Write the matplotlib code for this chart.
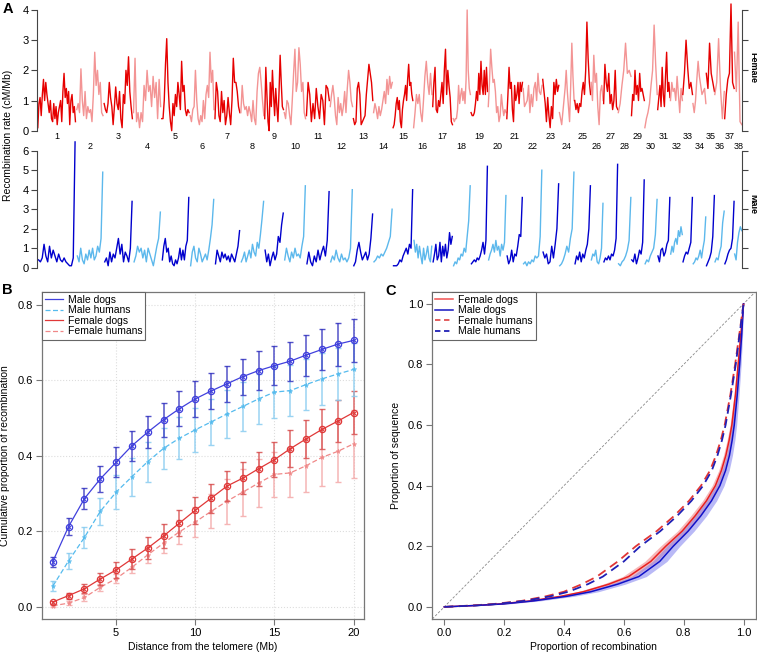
import numpy as np
import matplotlib
matplotlib.use('Agg')
import matplotlib.pyplot as plt

plt.rcParams['font.family'] = ['Liberation Sans', 'DejaVu Sans']

# ---------------- Panel A data ----------------
chrom_names = [str(i) for i in range(1, 39)]
chrom_len = [122.7, 85.4, 91.9, 88.3, 88.9, 77.6, 81.0, 74.9, 61.0, 69.3,
             74.4, 72.5, 63.2, 60.9, 64.3, 59.6, 64.3, 55.8, 53.7, 58.1,
             50.9, 61.4, 52.3, 47.7, 51.6, 38.9, 46.0, 41.2, 41.8, 40.2,
             39.9, 38.8, 31.4, 42.1, 26.5, 30.8, 30.9, 23.9]

female_rate = [
    [0.1, 0.9, 1.1, 0.5, 1.2, 1.7, 1.0, 1.6, 1.2, 0.9, 0.6, 1.0, 0.4, 0.3, 0.9, 0.4, 0.8,
     0.2, 0.6, 0.8, 1.0, 0.3, 1.3, 1.9, 1.1, 1.4, 0.9, 1.3, 0.2, 1.0, 1.2, 0.6, 0.8, 0.3],
    [0.7, 0.9, 0.6, 2.05, 1.0, 0.5, 1.3, 0.4, 0.8, 0.6, 0.7, 0.3, 1.2, 2.6, 1.5, 2.0, 1.2, 1.6, 0.6, 0.5],
    [0.9, 0.7, 0.6, 0.9, 1.6, 1.1, 0.8, 0.2, 0.8, 1.45, 0.9, 0.7, 1.3, 0.4, 0.1, 1.2, 0.9, 2.0,
     1.5, 2.45, 1.3, 0.8, 0.4],
    [0.6, 2.4, 0.3, 0.6, 0.1, 0.6, 0.3, 1.5, 1.0, 2.0, 1.3, 1.5, 0.8, 1.8, 1.1, 1.6, 0.4, 1.7, 0.8],
    [0.4, 0.4, 1.0, 2.2, 3.05, 1.6, 0.8, 0.3, 0.0, 0.9, 0.5, 1.2, 0.8, 1.6, 1.2, 0.7, 2.3, 1.3,
     1.5, 0.7, 0.5, 0.7, 0.6],
    [0.5, 0.3, 0.7, 0.8, 2.0, 1.0, 0.4, 0.2, 0.5, 0.3, 1.0, 0.4, 1.2, 1.5, 1.1, 2.6, 1.6, 2.0, 0.7],
    [0.4, 1.6, 1.3, 0.5, 0.3, 1.3, 0.6, 1.0, 0.2, 0.5, 1.1, 0.6, 0.2, 1.0, 2.4, 1.6, 1.6, 1.3, 0.8, 0.6],
    [0.6, 1.5, 0.9, 0.7, 0.8, 0.5, 0.8, 0.6, 0.3, 1.0, 0.4, 0.2, 1.3, 1.9, 2.1, 1.6, 1.0, 0.5],
    [0.4, 2.1, 1.2, 0.3, 0.0, 1.6, 0.8, 2.0, 1.2, 0.5, 1.4, 0.8, 0.3, 1.3, 2.5, 1.6, 0.8, 0.7],
    [0.6, 0.4, 1.0, 0.9, 0.5, 0.2, 1.0, 1.9, 2.7, 1.3, 1.6, 2.75, 2.2, 1.3, 1.6, 0.6, 0.4],
    [0.5, 1.6, 1.2, 0.3, 0.9, 0.4, 1.4, 0.8, 0.4, 1.2, 1.0, 0.2, 1.5, 1.4, 1.0],
    [0.8, 1.2, 1.5, 1.1, 0.5, 0.2, 1.1, 0.6, 0.9, 0.5, 0.8, 1.3, 0.6, 1.4, 2.0, 1.6, 1.0, 0.8],
    [0.4, 0.2, 0.3, 1.4, 1.6, 1.2, 0.2, 0.3, 0.4, 0.5, 1.2, 1.7, 2.2, 1.9, 1.6, 1.0],
    [0.6, 0.9, 0.7, 0.4, 0.8, 0.5, 0.7, 1.0, 1.3, 0.9, 1.7, 1.2, 1.8, 1.4, 1.6],
    [0.1, 0.2, 0.5, 0.9, 1.1, 0.7, 1.0, 0.3, 0.1, 0.7, 1.0, 1.2, 1.5, 1.0, 1.7, 2.2, 1.5, 1.6, 1.2, 1.0],
    [0.1, 0.6, 1.2, 0.9, 1.2, 0.6, 0.3, 1.0, 1.8, 2.3, 1.6, 1.2, 1.9, 1.2],
    [0.8, 1.6, 2.1, 0.7, 0.6, 1.0, 0.8, 1.2, 1.6, 0.9, 2.0, 2.7, 1.2, 2.0, 1.5, 1.1, 0.3, 0.2],
    [0.4, 0.3, 0.4, 0.4, 0.7, 1.5, 0.9, 1.2, 1.4, 1.0, 1.3, 0.9, 1.7, 4.0, 2.0, 1.4, 1.2],
    [0.6, 0.5, 0.5, 0.6, 0.9, 1.3, 1.0, 1.9, 1.2, 2.3, 1.5, 1.2, 2.0, 1.2, 2.1, 1.3],
    [0.8, 1.6, 2.7, 2.1, 1.6, 1.7, 1.3, 0.6, 0.8, 0.3, 0.5, 1.2, 0.8, 0.5, 0.7, 0.6],
    [0.4, 1.2, 2.1, 1.4, 1.6, 0.7, 0.3, 1.5, 1.0, 1.2, 1.6, 0.9, 1.6, 1.3, 1.6],
    [1.4, 0.8, 0.9, 1.0, 1.5, 0.6, 1.2, 0.8, 1.4, 1.6, 1.0, 1.9, 1.3, 1.2, 1.5],
    [1.7, 1.3, 0.9, 0.3, 1.1, 0.5, 0.1, 0.8, 0.4, 1.6, 1.2, 1.7, 1.3, 1.5],
    [0.6, 0.4, 0.2, 0.6, 1.0, 1.4, 2.0, 1.3, 0.8, 0.3, 1.5, 2.9, 1.8, 1.0],
    [1.0, 0.7, 0.9, 0.6, 0.9, 0.8, 1.3, 1.6, 1.2, 2.0, 3.6, 2.4, 1.6, 1.2],
    [1.6, 1.0, 2.5, 1.6, 1.9, 0.8, 0.2, 1.3, 1.5, 1.0],
    [0.9, 2.2, 1.6, 1.3, 1.9, 0.9, 1.2, 0.7, 1.0, 2.0, 0.8, 0.7],
    [0.6, 0.9, 1.5, 2.0, 2.9, 1.9, 2.0, 1.8],
    [0.5, 1.2, 1.0, 2.0, 1.2, 1.5, 1.0, 1.9, 1.3, 1.4, 1.2, 1.0],
    [0.1, 0.4, 0.6, 0.9, 1.5, 2.0, 3.5, 2.2, 1.2],
    [0.7, 1.1, 1.5, 0.8, 2.1, 1.2, 0.8, 1.8, 2.6, 1.3, 1.6, 1.1],
    [1.0, 1.6, 1.3, 1.4, 1.0, 1.8, 1.2, 0.6, 1.4, 1.0],
    [1.2, 1.9, 3.0, 2.1, 1.4, 1.6, 1.2],
    [0.9, 0.6, 1.0, 1.7, 2.3, 1.8, 1.5, 1.2, 1.3, 1.4, 0.9],
    [1.9, 1.4, 2.9, 1.9, 1.6, 1.3],
    [1.2, 1.6, 3.05, 1.4, 0.4, 1.3],
    [0.4, 1.2, 1.7, 1.9, 4.2, 1.6, 1.4],
    [2.6, 1.3, 3.6, 0.3, 0.2],
]

male_rate = [
    [0.4, 0.3, 0.5, 1.2, 0.6, 0.3, 1.1, 0.5, 0.9, 0.6, 0.3, 0.7, 0.4, 0.3, 0.5, 0.3, 0.2, 0.1, 0.1, 0.5, 6.45],
    [0.6, 0.3, 1.0, 0.4, 0.2, 0.7, 0.4, 0.9, 0.5, 1.0, 0.4, 0.6, 1.1, 0.8, 1.5, 4.9],
    [0.3, 0.5, 0.1, 0.8, 0.3, 0.7, 0.5, 1.0, 1.5, 0.7, 1.2, 0.3, 0.8, 0.6, 0.3, 1.0, 3.4],
    [0.3, 0.6, 1.1, 0.8, 1.0, 0.5, 0.9, 0.3, 1.0, 0.7, 0.4, 0.1, 0.6, 1.1, 1.5, 2.85],
    [0.4, 1.1, 1.5, 0.8, 1.0, 0.3, 0.6, 0.2, 0.1, 0.4, 0.2, 0.5, 1.0, 0.4, 0.9, 0.4, 1.1, 1.4, 3.6],
    [0.1, 0.8, 1.1, 0.5, 0.3, 1.0, 0.7, 0.3, 0.5, 0.7, 0.4, 0.9, 1.5, 2.2, 3.5],
    [0.2, 0.9, 0.6, 0.3, 0.8, 0.5, 0.7, 0.4, 0.6, 0.3, 0.7, 0.5, 0.3, 0.7, 1.1, 1.9],
    [0.3, 0.5, 0.8, 0.3, 0.6, 0.9, 0.5, 1.2, 0.8, 0.6, 1.3, 1.0, 1.7, 2.5, 3.4],
    [0.9, 0.3, 0.7, 0.1, 0.5, 0.8, 0.4, 0.7, 1.6, 1.3, 2.2, 2.8],
    [0.4, 1.0, 0.6, 0.3, 0.8, 0.5, 1.0, 0.6, 0.7, 0.5, 1.1, 1.6, 4.2],
    [0.2, 0.8, 0.3, 0.1, 0.6, 0.3, 0.9, 0.4, 0.8, 1.1, 0.6, 1.4, 3.9],
    [0.3, 0.6, 0.4, 0.9, 0.5, 0.3, 0.7, 0.4, 0.5, 0.3, 0.5, 1.0, 4.0],
    [0.1, 0.3, 0.9, 1.3, 0.8, 0.4, 0.6, 0.8, 0.4, 0.7, 1.5, 2.75],
    [0.3, 0.4, 0.6, 0.5, 0.7, 0.6, 0.8, 1.0, 1.3, 1.6, 3.0],
    [0.1, 0.1, 0.1, 0.2, 0.4, 0.3, 0.6, 0.8, 1.0, 0.7, 1.2, 1.0, 4.0],
    [1.4, 0.8, 1.2, 0.5, 1.1, 0.6, 0.2, 1.0, 0.4, 0.7, 1.1, 0.5, 0.3, 1.1],
    [0.3, 0.7, 1.2, 0.4, 0.6, 1.3, 0.3, 1.1, 0.6, 1.2, 0.5, 0.9, 1.8, 1.2, 1.6],
    [0.1, 0.3, 0.2, 0.5, 0.4, 0.7, 0.6, 1.0, 0.8, 1.6, 2.4, 4.2],
    [0.2, 0.3, 0.4, 0.3, 0.5, 0.4, 0.6, 0.9, 1.3, 0.7, 1.4, 5.2],
    [0.4, 0.7, 0.9, 1.2, 0.8, 1.4, 0.9, 1.1, 0.6, 1.2, 0.9, 1.3, 3.7],
    [0.6, 0.2, 0.4, 0.9, 0.3, 0.7, 0.6, 1.1, 1.7, 1.6, 3.6],
    [0.2, 0.3, 0.1, 0.3, 0.2, 0.4, 0.3, 0.6, 0.5, 0.6, 1.6, 5.0],
    [0.8, 0.5, 0.7, 0.2, 0.3, 1.1, 0.5, 1.2, 2.0, 4.3],
    [0.1, 0.2, 0.4, 0.7, 1.1, 0.8, 1.5, 2.0, 4.9],
    [0.2, 0.6, 0.4, 0.8, 0.3, 0.7, 0.5, 0.9, 1.2, 2.0, 4.2],
    [0.4, 0.7, 0.6, 0.9, 0.3, 0.2, 0.5, 1.0, 3.3],
    [0.3, 0.5, 0.4, 0.6, 0.4, 0.7, 0.6, 0.9, 1.5, 5.3],
    [0.2, 0.1, 0.3, 0.4, 0.6, 0.9, 1.4, 3.6],
    [0.4, 0.3, 0.7, 0.2, 0.5, 0.9, 0.7, 1.3, 4.5],
    [0.2, 0.4, 0.3, 0.6, 0.8, 1.0, 1.7, 3.5],
    [0.6, 0.3, 0.9, 1.0, 0.6, 0.8, 1.2, 1.4, 3.6],
    [0.7, 1.1, 0.8, 1.3, 1.5, 1.2, 1.9, 1.6, 2.1, 1.7],
    [0.3, 0.6, 0.8, 0.7, 1.0, 1.3, 3.6],
    [0.2, 0.3, 0.5, 0.4, 0.6, 0.9, 0.5, 1.0, 1.4, 2.6],
    [0.1, 0.3, 0.5, 0.8, 1.6, 3.7],
    [0.3, 0.5, 0.4, 0.8, 1.1, 2.3, 2.9],
    [0.2, 0.4, 0.7, 0.9, 1.0, 1.5, 3.4],
    [0.7, 0.4, 1.3, 1.8, 2.1, 1.9],
]

# ---------------- Panel B data ----------------
dist_mb = np.arange(1, 21)
male_dogs = [0.119, 0.212, 0.286, 0.338, 0.382, 0.426, 0.462, 0.495, 0.524, 0.550,
             0.571, 0.590, 0.609, 0.625, 0.638, 0.650, 0.666, 0.681, 0.695, 0.705]
male_dogs_err = [0.013, 0.022, 0.028, 0.035, 0.040, 0.040, 0.043, 0.045, 0.046, 0.047,
                 0.047, 0.047, 0.048, 0.052, 0.052, 0.052, 0.054, 0.055, 0.057, 0.057]
male_humans = [0.054, 0.121, 0.183, 0.252, 0.303, 0.344, 0.384, 0.419, 0.446, 0.468,
               0.489, 0.510, 0.530, 0.550, 0.568, 0.572, 0.588, 0.603, 0.616, 0.628]
male_humans_err = [0.013, 0.021, 0.029, 0.035, 0.045, 0.050, 0.053, 0.055, 0.055, 0.058,
                   0.061, 0.063, 0.065, 0.066, 0.068, 0.068, 0.068, 0.069, 0.070, 0.070]
female_dogs = [0.012, 0.029, 0.047, 0.073, 0.097, 0.126, 0.155, 0.187, 0.221, 0.255,
               0.287, 0.319, 0.340, 0.365, 0.389, 0.418, 0.444, 0.469, 0.491, 0.514]
female_dogs_err = [0.004, 0.008, 0.012, 0.017, 0.022, 0.026, 0.029, 0.031, 0.034, 0.036,
                   0.038, 0.040, 0.043, 0.045, 0.047, 0.049, 0.051, 0.053, 0.055, 0.056]
female_humans = [0.002, 0.009, 0.024, 0.051, 0.074, 0.104, 0.137, 0.168, 0.198, 0.224,
                 0.252, 0.279, 0.303, 0.327, 0.350, 0.354, 0.373, 0.395, 0.411, 0.431]
female_humans_err = [0.003, 0.005, 0.008, 0.010, 0.012, 0.016, 0.022, 0.027, 0.032, 0.040,
                     0.045, 0.060, 0.062, 0.063, 0.060, 0.065, 0.070, 0.075, 0.080, 0.090]

# ---------------- Panel C data ----------------
seq_prop = [0, 0.005, 0.01, 0.02, 0.035, 0.05, 0.075, 0.1, 0.15, 0.2, 0.25,
            0.3, 0.35, 0.4, 0.45, 0.5, 0.55, 0.6, 0.7, 0.8, 0.9, 1.0]
rec_female_humans = [0, 0.10, 0.17, 0.26, 0.34, 0.40, 0.46, 0.51, 0.58, 0.64, 0.71,
                     0.768, 0.818, 0.858, 0.888, 0.908, 0.924, 0.937, 0.956, 0.972, 0.986, 1.0]
rec_male_humans = [0, 0.11, 0.18, 0.27, 0.355, 0.415, 0.48, 0.53, 0.60, 0.655, 0.722,
                   0.778, 0.826, 0.865, 0.894, 0.913, 0.928, 0.940, 0.958, 0.974, 0.987, 1.0]
rec_female_dogs = [0, 0.11, 0.19, 0.29, 0.39, 0.465, 0.55, 0.616, 0.69, 0.74, 0.795,
                   0.838, 0.876, 0.906, 0.926, 0.941, 0.952, 0.961, 0.973, 0.982, 0.991, 1.0]
rec_male_dogs = [0, 0.115, 0.2, 0.30, 0.41, 0.49, 0.58, 0.65, 0.72, 0.765, 0.815,
                 0.857, 0.893, 0.921, 0.94, 0.953, 0.962, 0.969, 0.979, 0.987, 0.994, 1.0]
band_female_dogs = [0, 0.01, 0.015, 0.018, 0.02, 0.02, 0.02, 0.02, 0.02, 0.018, 0.016,
                    0.015, 0.013, 0.011, 0.009, 0.008, 0.007, 0.006, 0.005, 0.004, 0.003, 0]
band_male_dogs = [0, 0.012, 0.018, 0.022, 0.025, 0.025, 0.025, 0.025, 0.024, 0.022, 0.02,
                  0.019, 0.017, 0.014, 0.012, 0.01, 0.009, 0.008, 0.006, 0.005, 0.003, 0]

# ---------------- figure ----------------
W, H = 757, 653
fig = plt.figure(figsize=(W / 100, H / 100), dpi=100)


def box(l, t, r, b):
    return [l / W, 1 - b / H, (r - l) / W, (b - t) / H]


dark_red, light_red = '#e60000', '#f39494'
dark_blue, light_blue = '#0000cd', '#5cb8ec'
axis_col = '#444444'

ax_f = fig.add_axes(box(37, 10, 742, 130.7))
ax_m = fig.add_axes(box(37, 150.7, 742, 267.7))
starts = np.concatenate([[0], np.cumsum(chrom_len)[:-1]])
total = sum(chrom_len)

for i, L in enumerate(chrom_len):
    odd = i % 2 == 0
    xf = starts[i] + L * np.linspace(0.02, 0.98, len(female_rate[i]))
    ax_f.plot(xf, female_rate[i], color=dark_red if odd else light_red, lw=1.0, clip_on=False)
    xm = starts[i] + L * np.linspace(0.04, 0.97, len(male_rate[i]))
    ax_m.plot(xm, male_rate[i], color=dark_blue if odd else light_blue, lw=1.0, clip_on=False)
    mid = starts[i] + L / 2
    ax_f.text(mid, -0.044 if odd else -0.131, chrom_names[i], transform=ax_f.get_xaxis_transform(),
              ha='center', va='center', fontsize=6.5)

for ax, top in [(ax_f, 4), (ax_m, 6)]:
    ax.set_xlim(0, total)
    ax.set_ylim(0, top)
    ax.set_yticks(range(top + 1))
    ax.set_xticks([])
    for s in ['top', 'bottom']:
        ax.spines[s].set_visible(False)
    for s in ['left', 'right']:
        ax.spines[s].set_color(axis_col)
        ax.spines[s].set_linewidth(0.8)
    ax.tick_params(axis='y', right=True, labelright=False, length=4, width=0.8,
                   colors=axis_col, labelcolor='black', labelsize=8, pad=2)
    ax.patch.set_visible(False)

fig.text(753 / W, 1 - 67 / H, 'Female', rotation=270, fontsize=6.5, fontweight='bold',
         ha='center', va='center')
fig.text(753 / W, 1 - 204 / H, 'Male', rotation=270, fontsize=6.5, fontweight='bold',
         ha='center', va='center')
fig.text(8 / W, 1 - 135 / H, 'Recombination rate (cM/Mb)', rotation=90, fontsize=7.5,
         ha='center', va='center')

# ---------------- Panel B ----------------
ax_b = fig.add_axes(box(41.7, 291.7, 364.3, 619))
b_series = [
    ('Female humans', female_humans, female_humans_err, '#f08888', '#f4a8a8', (0, (4, 2)), '*'),
    ('Female dogs', female_dogs, female_dogs_err, '#e03838', '#d85050', '-', 'o'),
    ('Male humans', male_humans, male_humans_err, '#55bbee', '#88ccf0', (0, (4, 2)), '*'),
    ('Male dogs', male_dogs, male_dogs_err, '#4040dd', '#3535c0', '-', 'o'),
]
handles = {}
for name, vals, err, col, ecol, ls, mk in b_series:
    ax_b.errorbar(dist_mb, vals, yerr=err, fmt='none', ecolor=ecol, elinewidth=1.1,
                  capsize=2.2, capthick=1.0, alpha=0.85)
    line, = ax_b.plot(dist_mb, vals, color=col, lw=0.9, ls=ls)
    if mk == 'o':
        ax_b.plot(dist_mb, vals, 'o', ms=4.5, mfc='none', mec=col, mew=0.9)
        ax_b.plot(dist_mb, vals, 'x', ms=2.8, mec=col, mew=0.7)
    else:
        ax_b.plot(dist_mb, vals, '*', ms=3.5, mfc=col, mec=col, mew=0.3)
    handles[name] = line

ax_b.set_xlim(0.3, 20.68)
ax_b.set_ylim(-0.033, 0.834)
ax_b.set_xticks([5, 10, 15, 20])
ax_b.set_yticks([0.0, 0.2, 0.4, 0.6, 0.8])
ax_b.set_yticklabels(['0.0', '0.2', '0.4', '0.6', '0.8'])
ax_b.grid(True, color='#dddddd', ls=':', lw=0.8)
ax_b.set_axisbelow(True)
ax_b.set_xlabel('Distance from the telomere (Mb)', fontsize=7.5, labelpad=3)
ax_b.set_ylabel('Cumulative proportion of recombination', fontsize=7.5, labelpad=5)
leg = ax_b.legend([handles[n] for n in ['Male dogs', 'Male humans', 'Female dogs', 'Female humans']],
                  ['Male dogs', 'Male humans', 'Female dogs', 'Female humans'],
                  loc='upper left', borderaxespad=0, fontsize=7.5, fancybox=False,
                  edgecolor='#666666', framealpha=1, handlelength=1.7, handletextpad=0.5,
                  labelspacing=0.05, borderpad=0.3)
leg.get_frame().set_linewidth(0.8)

# ---------------- Panel C ----------------
ax_c = fig.add_axes(box(432.3, 291.7, 755.5, 619))
seq = np.array(seq_prop)
ax_c.axline((0, 0), (1, 1), color='#888888', lw=0.6, ls=(0, (3, 2)))
ax_c.fill_betweenx(seq, np.array(rec_female_dogs) - band_female_dogs,
                   np.array(rec_female_dogs) + band_female_dogs, color='#f08080', alpha=0.55, lw=0)
ax_c.fill_betweenx(seq, np.array(rec_male_dogs) - band_male_dogs,
                   np.array(rec_male_dogs) + band_male_dogs, color='#8080f0', alpha=0.55, lw=0)
ax_c.plot(rec_female_dogs, seq, color='#e82020', lw=1.1)
ax_c.plot(rec_male_dogs, seq, color='#1010c8', lw=1.1)
ax_c.plot(rec_female_humans, seq, color='#e03535', lw=1.3, ls=(0, (5, 3)))
ax_c.plot(rec_male_humans, seq, color='#2020b5', lw=1.3, ls=(0, (5, 3)))
ax_c.set_xlim(-0.04, 1.04)
ax_c.set_ylim(-0.04, 1.04)
ticks = [0.0, 0.2, 0.4, 0.6, 0.8, 1.0]
ax_c.set_xticks(ticks)
ax_c.set_yticks(ticks)
ax_c.set_xticklabels(['%.1f' % t for t in ticks])
ax_c.set_yticklabels(['%.1f' % t for t in ticks])
ax_c.set_xlabel('Proportion of recombination', fontsize=7.5, labelpad=3)
ax_c.set_ylabel('Proportion of sequence', fontsize=7.5, labelpad=5)
h_fd, = ax_c.plot([], [], color='#f05050', lw=1.1)
h_md, = ax_c.plot([], [], color='#1515c0', lw=1.1)
h_fh, = ax_c.plot([], [], color='#e05050', lw=1.3, ls=(0, (3, 2)))
h_mh, = ax_c.plot([], [], color='#2020b5', lw=1.3, ls=(0, (3, 2)))
leg_c = ax_c.legend([h_fd, h_md, h_fh, h_mh],
                    ['Female dogs', 'Male dogs', 'Female humans', 'Male humans'],
                    loc='upper left', borderaxespad=0, fontsize=7.5, fancybox=False,
                    edgecolor='#666666', framealpha=1, handlelength=1.7, handletextpad=0.5,
                    labelspacing=0.05, borderpad=0.3)
leg_c.get_frame().set_linewidth(0.8)

for ax in [ax_b, ax_c]:
    for s in ax.spines.values():
        s.set_color('#777777')
        s.set_linewidth(0.9)
    ax.tick_params(length=4, width=0.8, colors='#777777', labelcolor='black', labelsize=8, pad=2.5)

fig.text(7.5 / W, 1 - 9 / H, 'A', fontsize=10.5, fontweight='bold', ha='center', va='center')
fig.text(7.5 / W, 1 - 290 / H, 'B', fontsize=10.5, fontweight='bold', ha='center', va='center')
fig.text(391 / W, 1 - 291 / H, 'C', fontsize=10.5, fontweight='bold', ha='center', va='center')

fig.savefig('out.png', dpi=100)
